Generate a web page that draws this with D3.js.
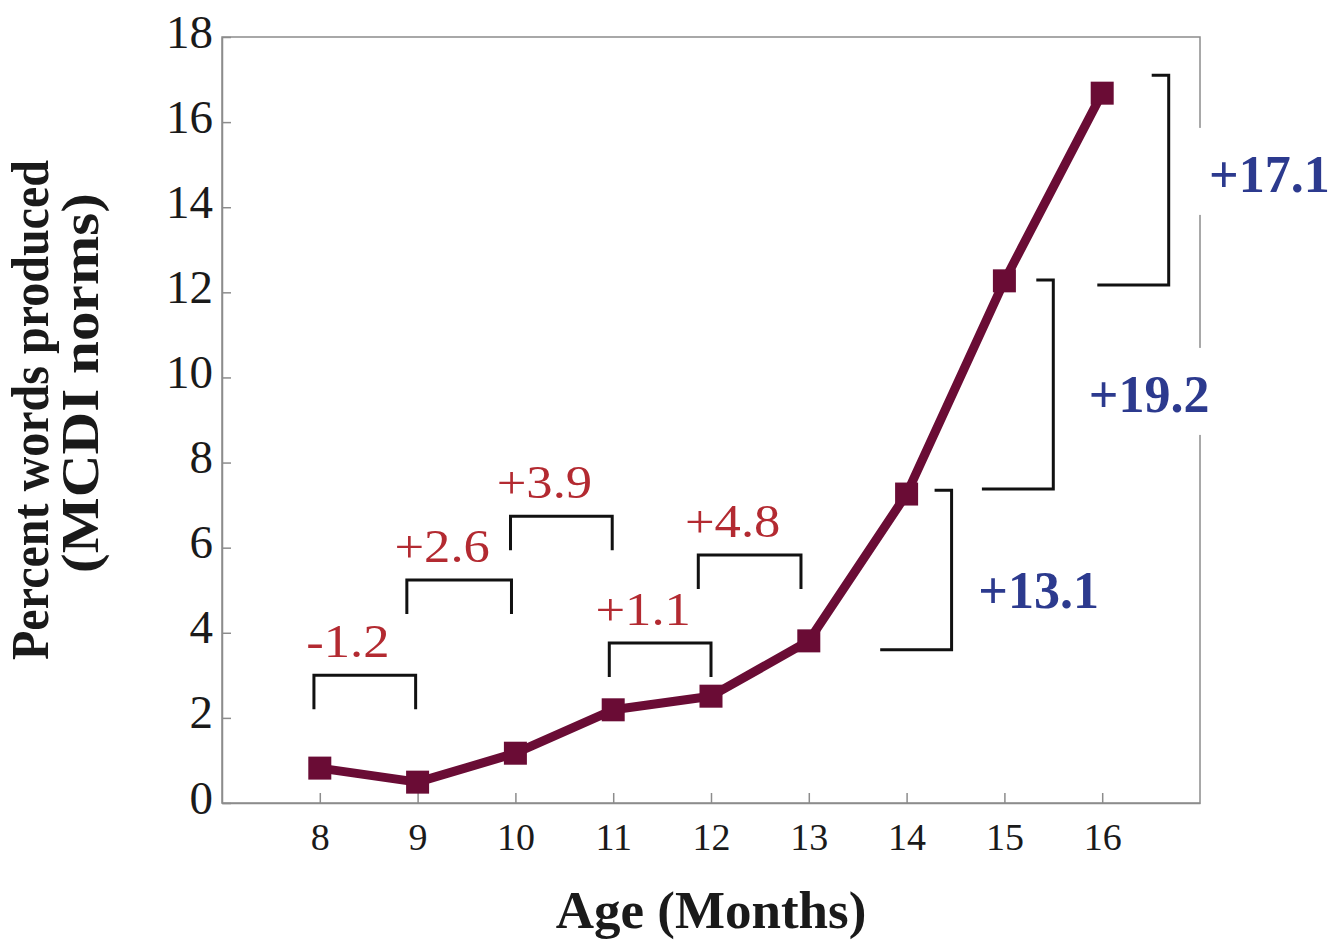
<!DOCTYPE html>
<html><head><meta charset="utf-8">
<script src="https://cdn.jsdelivr.net/npm/d3@7"></script>
<style>body{margin:0;background:#fff}svg{display:block}</style>
</head><body>
<svg id="c" width="1338" height="941"></svg>
<script>
// ---- data ----
const months = [8, 9, 10, 11, 12, 13, 14, 15, 16];
const percentWords = [0.82, 0.49, 1.17, 2.19, 2.51, 3.81, 7.26, 12.27, 16.68];
const yTicks = [0, 2, 4, 6, 8, 10, 12, 14, 16, 18];
const xTicks = [8, 9, 10, 11, 12, 13, 14, 15, 16];

// month-to-month changes (red, upper brackets)
const smallLabels = ["-1.2", "+2.6", "+3.9", "+1.1", "+4.8"];
const smallFrom = [7.94, 8.89, 9.95, 10.96, 11.87];
const smallTo = [8.98, 9.96, 10.99, 12.0, 12.92];
const smallLevel = [3.0, 5.24, 6.74, 3.76, 5.83];

// large changes (blue, side brackets)
const bigLabels = ["+13.1", "+19.2", "+17.1"];
const bigBarAt = [14.46, 15.5, 16.68];
const bigArmFrom = [13.73, 14.77, 15.95];
const bigTop = [7.35, 12.29, 17.1];
const bigBottom = [3.6, 7.38, 12.17];
const bigLabelX = [15.35, 16.48, 17.71];
const bigLabelY = [4.58, 9.19, 14.36];

// ---- drawing ----
const svg = d3.select("#c");
const x = d3.scaleLinear().domain([7, 17]).range([222, 1200]);
const y = d3.scaleLinear().domain([0, 18]).range([803, 37]);
const serif = "'Liberation Serif','Times New Roman',serif";
const axisCol = "#8c8c8c";
const lineCol = "#6a0c35";
const redCol = "#b32a31";
const blueCol = "#2c3a8e";

// frame
svg.append("rect").attr("x", x(7)).attr("y", y(18))
  .attr("width", x(17) - x(7)).attr("height", y(0) - y(18))
  .attr("fill", "none").attr("stroke", axisCol).attr("stroke-width", 1.5);

// y axis
const yAxis = d3.axisLeft(y).tickValues(yTicks).tickSizeInner(-9).tickSizeOuter(0).tickPadding(9);
const gy = svg.append("g").attr("transform", `translate(${x(7)},0)`).call(yAxis);
gy.select(".domain").attr("stroke", axisCol).attr("stroke-width", 1.5);
gy.selectAll(".tick line").attr("stroke", axisCol).attr("stroke-width", 1.5);
gy.selectAll(".tick text").attr("font-family", serif).attr("font-size", 47)
  .attr("fill", "#1a1a1a").attr("dy", "10").attr("x", -9);

// x axis
const xAxis = d3.axisBottom(x).tickValues(xTicks).tickSizeInner(-10).tickSizeOuter(0).tickPadding(0);
const gx = svg.append("g").attr("transform", `translate(0,${y(0)})`).call(xAxis);
gx.select(".domain").attr("stroke", axisCol).attr("stroke-width", 1.5);
gx.selectAll(".tick line").attr("stroke", axisCol).attr("stroke-width", 1.5);
gx.selectAll(".tick text").attr("font-family", serif).attr("font-size", 38)
  .attr("fill", "#1a1a1a").attr("y", 47).attr("dy", 0);

// axis titles
svg.append("text").attr("x", 711).attr("y", 928).attr("text-anchor", "middle")
  .attr("font-family", serif).attr("font-weight", "bold").attr("font-size", 53)
  .attr("fill", "#1a1a1a").text("Age (Months)");
svg.append("text").attr("transform", "translate(48,410) rotate(-90)").attr("text-anchor", "middle")
  .attr("font-family", serif).attr("font-weight", "bold").attr("font-size", 52)
  .attr("textLength", 500).attr("lengthAdjust", "spacingAndGlyphs")
  .attr("fill", "#1a1a1a").text("Percent words produced");
svg.append("text").attr("transform", "translate(98,383) rotate(-90)").attr("text-anchor", "middle")
  .attr("font-family", serif).attr("font-weight", "bold").attr("font-size", 52)
  .attr("textLength", 380).attr("lengthAdjust", "spacingAndGlyphs")
  .attr("fill", "#1a1a1a").text("(MCDI norms)");

// line + markers
const pts = months.map((m, i) => [m, percentWords[i]]);
svg.append("path").datum(pts)
  .attr("d", d3.line().x(d => x(d[0])).y(d => y(d[1])))
  .attr("fill", "none").attr("stroke", lineCol).attr("stroke-width", 9).attr("stroke-linejoin", "round");
svg.selectAll(".mk").data(pts).enter().append("rect")
  .attr("x", d => x(d[0]) - 11.5).attr("y", d => y(d[1]) - 11.5)
  .attr("width", 23).attr("height", 23).attr("fill", lineCol);

// red brackets
const legLen = 34;
smallLabels.forEach((lab, i) => {
  const x0 = x(smallFrom[i]), x1 = x(smallTo[i]), yt = y(smallLevel[i]);
  svg.append("path").attr("d", `M${x0},${yt + legLen}V${yt}H${x1}V${yt + legLen}`)
    .attr("fill", "none").attr("stroke", "#111").attr("stroke-width", 3);
  svg.append("text").attr("transform", `translate(${(x0 + x1) / 2 - 17},${yt - 18}) scale(1.12,1)`)
    .attr("text-anchor", "middle").attr("font-family", serif).attr("font-size", 47)
    .attr("fill", redCol).text(lab);
});

// blue brackets
bigLabels.forEach((lab, i) => {
  const xb = x(bigBarAt[i]), xa = x(bigArmFrom[i]), yt = y(bigTop[i]), yb = y(bigBottom[i]);
  svg.append("path").attr("d", `M${xb - 17},${yt}H${xb}V${yb}H${xa}`)
    .attr("fill", "none").attr("stroke", "#111").attr("stroke-width", 3);
  const cx = x(bigLabelX[i]), by = y(bigLabelY[i]);
  svg.append("rect").attr("x", cx - 76).attr("y", by - 64).attr("width", 152).attr("height", 87)
    .attr("fill", "#fff");
  svg.append("text").attr("x", cx).attr("y", by).attr("text-anchor", "middle")
    .attr("font-family", serif).attr("font-weight", "bold").attr("font-size", 52)
    .attr("fill", blueCol).text(lab);
});
</script>
</body></html>
